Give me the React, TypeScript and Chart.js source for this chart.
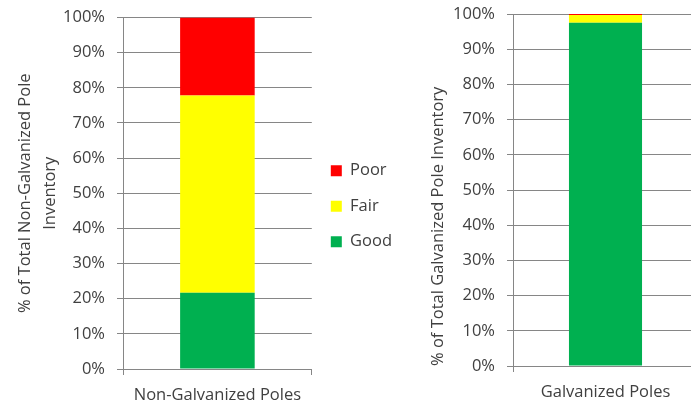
import React, { useEffect, useRef } from 'react';
import { Chart, registerables } from 'chart.js';

Chart.register(...registerables);

const conditionLabels = ['Good', 'Fair', 'Poor'];
const conditionColors = ['#00B050', '#FFFF00', '#FF0000'];
const leftCategories = ['Non-Galvanized Poles'];
const rightCategories = ['Galvanized Poles'];
const nonGalvGood = [21.7];
const nonGalvFair = [56.1];
const nonGalvPoor = [22.2];
const galvGood = [97.5];
const galvFair = [2.2];
const galvPoor = [0.3];
const leftTitle = ['% of Total Non-Galvanized Pole', 'Inventory'];
const rightTitle = '% of Total Galvanized Pole Inventory';

const FONT = '"Open Sans", "Liberation Sans", sans-serif';
const FS = 16.5;
const TEXT = '#404040';
const GRID = '#868686';

function buildConfig(
  categories: string[],
  good: number[],
  fair: number[],
  poor: number[],
  title: string | string[],
  opts: {
    yWidth: number;
    xHeight: number;
    padTop: number;
    padRight: number;
    titlePad: number;
    titleLH: number;
    titleAlign: string;
    legend: boolean;
  }
): any {
  const series = [good, fair, poor];
  return {
    type: 'bar',
    data: {
      labels: categories,
      datasets: series.map((d, i) => ({
        label: conditionLabels[i],
        data: d,
        backgroundColor: conditionColors[i],
        borderWidth: 0,
        barPercentage: 0.395,
        categoryPercentage: 1,
      })),
    },
    options: {
      responsive: false,
      animation: false,
      layout: { padding: { top: opts.padTop, right: opts.padRight, left: 0, bottom: 0 } },
      plugins: {
        tooltip: { enabled: false },
        legend: {
          display: opts.legend,
          position: 'right',
          align: 'center',
          reverse: true,
          title: {
            display: true,
            text: '',
            font: { size: 0, lineHeight: 0 },
            padding: { top: -12, bottom: 0 },
          },
          labels: {
            boxWidth: 11,
            boxHeight: 11,
            padding: 19,
            color: TEXT,
            font: { family: FONT, size: FS },
          },
        },
      },
      scales: {
        x: {
          stacked: true,
          offset: true,
          grid: {
            offset: true,
            drawOnChartArea: false,
            drawTicks: true,
            tickLength: 6,
            color: GRID,
          },
          border: { display: true, color: GRID },
          ticks: { color: TEXT, font: { family: FONT, size: FS }, padding: 10.5 },
          afterFit: (s: any) => {
            s.height = opts.xHeight;
            s.paddingLeft = 0;
            s.paddingRight = 0;
          },
        },
        y: {
          stacked: true,
          min: 0,
          max: 100,
          grid: { color: GRID, tickLength: 6 },
          border: { display: true, color: GRID },
          ticks: {
            stepSize: 10,
            color: TEXT,
            padding: 12,
            font: { family: FONT, size: FS },
            callback: (v: any) => v + '%',
          },
          title: {
            display: true,
            text: title,
            align: opts.titleAlign,
            color: TEXT,
            font: { family: FONT, size: FS, lineHeight: opts.titleLH },
            padding: { top: opts.titlePad, bottom: 0 },
          },
          afterFit: (s: any) => {
            s.width = opts.yWidth;
            s.paddingTop = 0;
            s.paddingBottom = 0;
          },
        },
      },
    },
  };
}

export default function App() {
  const leftRef = useRef<HTMLCanvasElement>(null);
  const rightRef = useRef<HTMLCanvasElement>(null);

  useEffect(() => {
    const left = new Chart(
      leftRef.current as HTMLCanvasElement,
      buildConfig(leftCategories, nonGalvGood, nonGalvFair, nonGalvPoor, leftTitle, {
        yWidth: 123,
        xHeight: 38,
        padTop: 17.5,
        padRight: 0,
        titlePad: 12.5,
        titleLH: 25 / FS,
        titleAlign: 'center',
        legend: true,
      })
    );
    const right = new Chart(
      rightRef.current as HTMLCanvasElement,
      buildConfig(rightCategories, galvGood, galvFair, galvPoor, rightTitle, {
        yWidth: 113,
        xHeight: 41,
        padTop: 14,
        padRight: 2,
        titlePad: 28.2,
        titleLH: 1.2,
        titleAlign: 'start',
        legend: false,
      })
    );
    return () => {
      left.destroy();
      right.destroy();
    };
  }, []);

  return (
    <div style={{ position: 'fixed', left: 0, top: 0, width: 691, height: 407, overflow: 'hidden', background: '#fff' }}>
      <canvas ref={leftRef} width={402} height={407} style={{ position: 'absolute', left: 0, top: 0 }} />
      <canvas ref={rightRef} width={300} height={407} style={{ position: 'absolute', left: 400, top: 0 }} />
    </div>
  );
}
